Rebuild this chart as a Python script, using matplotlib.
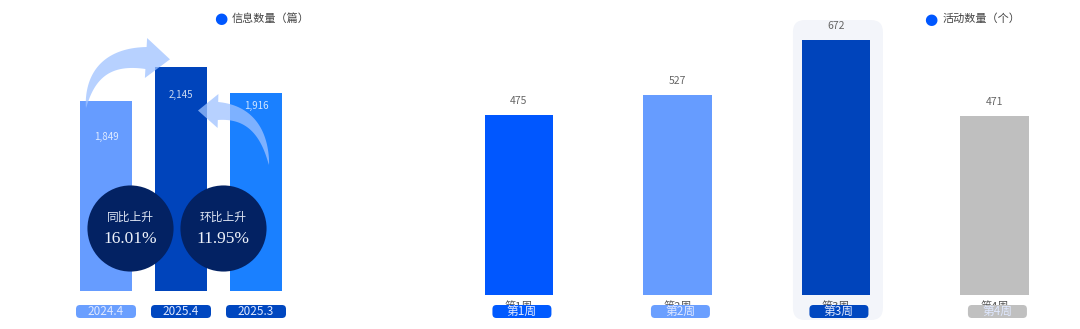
import numpy as np
import matplotlib
matplotlib.use('Agg')
from matplotlib import pyplot as plt
from matplotlib.patches import FancyBboxPatch, Polygon
from matplotlib.transforms import IdentityTransform

plt.rcParams['font.family'] = ['Noto Sans CJK SC', 'DejaVu Sans']

# left chart: info count
info_periods = ['2024.4', '2025.4', '2025.3']
info_values = [1849, 2145, 1916]
yoy_label, yoy_value = '同比上升', '16.01%'
mom_label, mom_value = '环比上升', '11.95%'

# right chart: activity count
weeks = ['第1周', '第2周', '第3周', '第4周']
activity_values = [475, 527, 672, 471]

info_colors = ['#669cff', '#0044bb', '#1a80ff']
info_box_colors = ['#6a9fff', '#0047c0', '#0047c0']
week_colors = ['#0057ff', '#669cff', '#0044bb', '#bfbfbf']
week_box_colors = ['#005aff', '#6a9fff', '#0047c0', '#c0c0c0']
navy = '#032263'

W, H = 1080, 329
fig = plt.figure(figsize = (W / 100, H / 100), dpi = 100)


def px_axes(left, top, right, bottom):
    return fig.add_axes([left / W, 1 - bottom / H, (right - left) / W, (bottom - top) / H])


def img2disp(x, y):
    return (x, H - y)


def pill(cx, cy, w, h, color, text, z = 2):
    # rounded label box in image pixels
    x0, y0 = img2disp(cx - w / 2, cy + h / 2)
    p = FancyBboxPatch((x0, y0), w, h, boxstyle = 'round,pad=0,rounding_size=4',
                       transform = IdentityTransform(), facecolor = color,
                       edgecolor = 'none', zorder = z)
    fig.add_artist(p)
    fig.text(cx / W, 1 - cy / H, text, ha = 'center', va = 'center', fontsize = 8.5,
             color = '#dfe8ff', zorder = z + 1)


def curved_arrow(p0, c, p2, body_w, head_w, head_len, color = '#9fc2ff', alpha = 0.75):
    p0, c, p2 = [np.array(img2disp(*p), dtype = float) for p in (p0, c, p2)]
    t = np.linspace(0, 1, 40)[:, None]
    pts = (1 - t) ** 2 * p0 + 2 * (1 - t) * t * c + t ** 2 * p2
    tan = 2 * (1 - t) * (c - p0) + 2 * t * (p2 - c)
    tan = tan / np.linalg.norm(tan, axis = 1, keepdims = True)
    nrm = np.column_stack([-tan[:, 1], tan[:, 0]])
    w = body_w * t[:, 0] ** 0.8 / 2
    left = pts + nrm * w[:, None]
    right = pts - nrm * w[:, None]
    end, et, en = pts[-1], tan[-1], nrm[-1]
    head = [end + en * head_w / 2, end + et * head_len, end - en * head_w / 2]
    poly = np.vstack([left, head, right[::-1]])
    fig.add_artist(Polygon(poly, closed = True, transform = IdentityTransform(),
                           facecolor = color, edgecolor = 'none', alpha = alpha, zorder = 1.5))


# ---------------- left chart ----------------
ax1 = px_axes(31, 30, 331, 291)
ax1.set_facecolor('none')
x1 = np.arange(len(info_values))
ax1.bar(x1, info_values, 0.69, color = info_colors, zorder = 2)
ax1.set_xlim(-1, 3)
ax1.set_ylim(195, 2466)
ax1.axis('off')

label_drop = [36, 28, 13]
for xi, v, d in zip(x1, info_values, label_drop):
    ax1.annotate(f'{v:,}', (xi, v), xytext = (0, -d * 0.72), textcoords = 'offset points',
                 ha = 'center', va = 'center', fontsize = 7, color = 'white', alpha = 0.8, zorder = 3)

# growth circles sit between the bars
cy = 195 + (291 - 228) / 0.1149
for cx, lab, val in [(0.32, yoy_label, yoy_value), (1.56, mom_label, mom_value)]:
    ax1.scatter([cx], [cy], s = 62 ** 2, color = navy, zorder = 4, linewidths = 0)
    ax1.annotate(lab, (cx, cy), xytext = (0, 8), textcoords = 'offset points', ha = 'center',
                 va = 'center', fontsize = 8.5, color = '#dde4f2', zorder = 5)
    ax1.annotate(val, (cx, cy), xytext = (0, -8), textcoords = 'offset points', ha = 'center',
                 va = 'center', fontsize = 12.5, color = '#eef2fa', zorder = 5,
                 family = ['Liberation Serif', 'DejaVu Serif'])

for xi, lab, col in zip(x1, info_periods, info_box_colors):
    bx, _ = ax1.transData.transform((xi, 0))
    pill(bx, 311.5, 60, 13, col, lab)

curved_arrow((86, 108), (92, 55), (146, 58), 22, 40, 24)
curved_arrow((269, 165), (262, 112), (218, 111), 18, 34, 20)

# legend
fig.text(221 / W, 1 - 18.5 / H, '●', ha = 'center', va = 'center', fontsize = 11,
         color = '#0057ff', family = ['DejaVu Sans'])
fig.text(232 / W, 1 - 18.5 / H, '信息数量（篇）', ha = 'left', va = 'center', fontsize = 8,
         color = '#444444')

# ---------------- right chart ----------------
ax2 = px_axes(440, 30, 1080, 295)
ax2.set_facecolor('none')
x2 = np.arange(len(activity_values))
ax2.bar(x2, activity_values, 0.43, color = week_colors, zorder = 2)
ax2.set_xlim(-0.498, -0.498 + 640 / 158.5)
ax2.set_ylim(0, 265 / 0.3795)
for s in ax2.spines.values():
    s.set_visible(False)
ax2.set_yticks([])
ax2.set_xticks(x2, weeks)
ax2.tick_params(axis = 'x', length = 0, pad = 4.5, labelsize = 8, labelcolor = '#555555')
for xi, v in zip(x2, activity_values):
    ax2.annotate(str(v), (xi, v), xytext = (0, 10), textcoords = 'offset points',
                 ha = 'center', va = 'center', fontsize = 7.5, color = '#666666')

# highlight behind the top week
top = int(np.argmax(activity_values))
hx, _ = ax2.transData.transform((top, 0))
x0, y0 = img2disp(hx - 43, 320)
fig.add_artist(FancyBboxPatch((x0, y0), 90, 300, boxstyle = 'round,pad=0,rounding_size=12',
                              transform = IdentityTransform(), facecolor = '#f3f5fa',
                              edgecolor = 'none', zorder = -1))

for xi, lab, col in zip(x2, weeks, week_box_colors):
    bx, _ = ax2.transData.transform((xi, 0))
    pill(bx + 3, 311.5, 59, 13, col, lab)

fig.text(931 / W, 1 - 19 / H, '●', ha = 'center', va = 'center', fontsize = 11,
         color = '#0057ff', family = ['DejaVu Sans'])
fig.text(943 / W, 1 - 19 / H, '活动数量（个）', ha = 'left', va = 'center', fontsize = 8,
         color = '#444444')

fig.savefig('out.png', dpi = 100)
